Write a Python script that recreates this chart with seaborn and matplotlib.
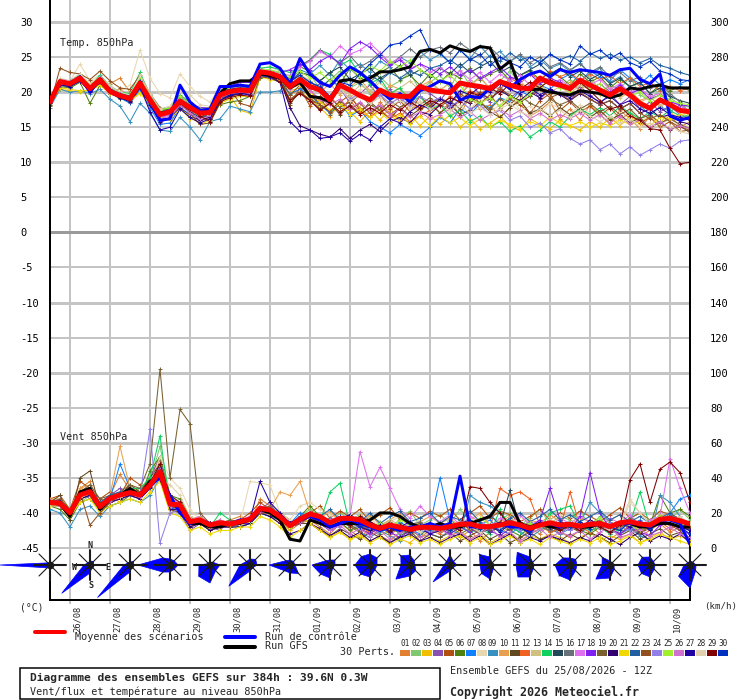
import numpy as np
import matplotlib
matplotlib.use("Agg")
import matplotlib.pyplot as plt
import seaborn as sns
from matplotlib.transforms import ScaledTranslation
from matplotlib.lines import Line2D
from matplotlib.patches import Polygon, Rectangle

# ---------------- data ----------------
hours = list(range(0, 385, 6))
date_ticks = list(range(12, 384, 24))
date_labels = ['26/08', '27/08', '28/08', '29/08', '30/08', '31/08', '01/09', '02/09',
               '03/09', '04/09', '05/09', '06/09', '07/09', '08/09', '09/09', '10/09']
left_ticks = list(range(-45, 31, 5))
right_ticks = list(range(0, 301, 20))
member_ids = ['%02d' % k for k in range(1, 31)]
member_colors = ['#e08030', '#80c870', '#f0c000', '#8850b0', '#b05010', '#508010', '#1080ff',
                 '#e8d8b0', '#3890c0', '#e8a050', '#604820', '#f06020', '#d0c080', '#10d060',
                 '#204858', '#687078', '#e070f0', '#8020f0', '#786030', '#300070', '#f0d800',
                 '#2060a0', '#905020', '#9080e8', '#a0f030', '#d070d0', '#2000a0', '#e0d0b0',
                 '#800000', '#0030c0']

temp_mean = [18.6, 21.5, 21.2, 22.0, 20.5, 21.8, 20.1, 19.5, 19.1, 21.3, 18.9, 16.8, 17.2,
             18.7, 17.8, 17.0, 17.1, 19.6, 20.1, 20.3, 20.2, 22.9, 22.7, 22.2, 20.8, 21.8,
             20.8, 20.3, 18.9, 21.0, 20.3, 19.5, 18.9, 20.3, 19.6, 19.4, 19.4, 20.8, 20.3,
             20.1, 19.9, 21.3, 21.0, 20.8, 20.5, 21.5, 21.0, 20.6, 20.5, 22.0, 21.3, 21.0,
             20.5, 21.7, 21.0, 20.3, 19.6, 20.5, 19.6, 18.4, 17.7, 18.9, 18.2, 17.4, 17.2]
temp_control = [18.6, 21.6, 21.2, 22.2, 20.0, 21.8, 20.2, 19.4, 19.2, 21.0, 18.6, 16.0, 16.2,
                21.0, 18.6, 17.4, 17.6, 20.8, 20.8, 21.0, 20.8, 24.0, 24.2, 23.4, 21.2, 24.8,
                22.6, 21.4, 20.8, 22.4, 23.6, 22.8, 21.6, 20.2, 19.0, 19.8, 18.6, 20.2, 20.8,
                21.6, 21.2, 18.9, 19.4, 19.2, 20.6, 21.4, 20.6, 21.8, 22.6, 23.0, 22.2, 23.2,
                22.8, 23.2, 23.0, 22.8, 22.4, 23.2, 23.4, 21.8, 21.2, 22.6, 16.6, 16.0, 16.4]
temp_gfs = [18.6, 21.4, 21.2, 22.0, 20.6, 21.8, 20.2, 19.4, 19.0, 21.2, 18.8, 17.0, 17.2,
            18.6, 17.6, 17.2, 17.4, 19.8, 21.2, 21.6, 21.6, 22.6, 22.4, 22.0, 20.6, 21.4,
            19.4, 19.2, 18.6, 21.6, 21.8, 21.4, 22.0, 22.9, 22.9, 23.2, 23.6, 25.8, 26.1,
            25.6, 26.6, 26.1, 25.8, 26.5, 26.3, 23.3, 24.4, 20.6, 20.4, 20.4, 20.0, 19.8,
            19.6, 20.2, 20.0, 19.8, 19.2, 19.6, 20.6, 20.4, 20.8, 21.0, 20.6, 20.6, 20.6]

t01 = [18.4, 21.2, 21.6, 21.8, 21.0, 21.4, 21.2, 22.0, 20.0, 20.6, 18.0, 16.2, 17.8,
       18.2, 17.4, 16.6, 17.8, 19.0, 19.4, 20.0, 20.6, 22.4, 23.0, 21.6, 19.6, 20.4,
       19.4, 17.6, 18.8, 16.9, 19.2, 17.8, 16.4, 18.6, 17.0, 16.2, 18.4, 17.2, 18.8,
       17.0, 18.6, 16.8, 19.4, 17.6, 18.2, 16.4, 17.8, 19.0, 16.6, 17.4, 18.6, 16.2,
       17.6, 16.0, 18.2, 16.8, 15.4, 17.4, 16.2, 14.8, 16.6, 15.2, 16.8, 15.0, 15.8]
t02 = [18.8, 21.0, 20.8, 21.6, 20.2, 22.0, 19.8, 19.4, 19.6, 21.8, 19.2, 17.0, 17.0,
       19.0, 18.2, 17.6, 16.8, 19.8, 20.4, 20.0, 20.8, 23.2, 22.4, 22.8, 21.4, 22.6,
       22.6, 20.4, 21.8, 23.0, 20.6, 21.4, 19.8, 22.2, 20.8, 21.6, 22.8, 20.2, 21.4,
       22.4, 20.6, 23.2, 21.0, 22.2, 20.4, 21.6, 23.0, 21.2, 20.0, 22.0, 21.4, 20.6,
       21.8, 20.2, 22.6, 19.8, 21.0, 20.4, 22.2, 19.6, 18.8, 20.4, 19.2, 18.2, 17.8]
t03 = [18.2, 20.4, 20.2, 20.0, 20.4, 21.0, 20.2, 19.8, 18.6, 20.0, 18.6, 16.4, 16.0,
       17.8, 16.2, 15.8, 16.4, 18.6, 19.4, 17.4, 17.0, 22.0, 22.6, 21.8, 20.2, 20.6,
       19.2, 17.8, 16.4, 18.6, 17.2, 15.8, 17.4, 16.0, 17.8, 15.6, 16.8, 15.2, 16.6,
       15.4, 16.8, 15.0, 16.2, 14.8, 15.6, 16.6, 15.0, 14.6, 16.2, 15.4, 14.8, 16.0,
       15.2, 14.6, 15.8, 15.0, 16.4, 15.2, 16.6, 15.4, 16.8, 15.6, 17.2, 16.0, 17.0]
t04 = [18.8, 21.6, 21.4, 22.2, 20.8, 21.6, 20.4, 19.2, 18.8, 21.6, 18.4, 15.6, 16.4,
       18.0, 17.4, 15.8, 16.6, 19.4, 19.8, 20.4, 20.0, 22.4, 23.2, 22.0, 21.2, 22.0,
       20.4, 21.2, 19.0, 20.6, 18.4, 19.8, 21.0, 19.2, 20.4, 18.6, 19.6, 21.2, 19.8,
       18.8, 20.6, 19.4, 21.4, 19.6, 18.6, 20.8, 19.2, 20.2, 21.0, 19.0, 20.4, 19.8,
       18.6, 20.8, 19.6, 18.4, 19.8, 18.2, 19.4, 17.6, 18.6, 17.2, 18.0, 16.8, 16.2]
t05 = [18.6, 21.8, 21.2, 21.4, 21.0, 21.2, 20.6, 19.6, 19.6, 20.6, 18.6, 17.2, 17.6,
       19.4, 18.4, 17.4, 16.2, 18.8, 19.8, 20.6, 19.6, 22.2, 22.4, 21.8, 18.2, 20.6,
       18.0, 19.4, 16.8, 18.6, 19.6, 17.4, 18.2, 19.8, 17.6, 18.8, 17.2, 19.4, 18.0,
       19.2, 17.8, 18.6, 20.2, 18.4, 19.6, 17.8, 19.0, 18.2, 17.0, 18.8, 19.8, 17.4,
       18.6, 17.2, 18.0, 16.6, 17.8, 16.2, 17.0, 15.6, 16.4, 15.0, 15.8, 14.4, 14.6]
t06 = [18.0, 20.8, 20.6, 21.4, 18.4, 21.0, 20.0, 19.0, 19.0, 20.8, 19.4, 17.4, 17.6,
       19.0, 18.0, 17.4, 17.6, 18.2, 18.6, 18.8, 19.4, 22.0, 22.2, 21.8, 22.0, 23.6,
       23.0, 21.6, 22.8, 21.2, 23.4, 22.0, 21.4, 22.8, 23.6, 21.8, 22.4, 21.0, 22.6,
       21.4, 22.8, 22.0, 23.4, 21.8, 22.6, 23.2, 21.6, 22.4, 23.0, 21.8, 22.8, 22.2,
       21.0, 22.6, 21.4, 22.2, 20.6, 21.8, 20.8, 21.4, 19.8, 21.0, 20.2, 20.8, 20.2]
t07 = [18.4, 21.2, 20.8, 21.6, 20.4, 21.4, 19.8, 19.2, 18.4, 20.4, 17.8, 15.4, 15.6,
       17.8, 16.8, 16.4, 17.0, 19.0, 19.6, 20.0, 19.8, 22.4, 22.0, 21.4, 19.8, 20.4,
       19.6, 18.2, 17.0, 18.4, 16.6, 17.4, 15.8, 15.0, 14.2, 15.4, 14.6, 13.8, 15.0,
       16.4, 15.6, 17.6, 16.8, 18.4, 17.8, 19.2, 18.6, 20.2, 19.4, 21.0, 20.4, 21.8,
       22.6, 21.4, 23.0, 22.2, 21.6, 23.2, 22.0, 21.2, 22.4, 21.0, 21.8, 21.2, 21.8]
t08 = [19.0, 22.0, 21.6, 24.0, 21.6, 22.4, 21.0, 20.0, 21.0, 26.0, 22.0, 19.8, 19.2,
       22.6, 20.8, 19.4, 18.6, 20.6, 20.6, 21.4, 21.6, 23.4, 23.6, 23.0, 21.8, 22.6,
       21.6, 20.2, 19.4, 21.0, 19.0, 20.4, 18.6, 19.8, 18.2, 19.4, 17.6, 18.8, 17.2,
       18.4, 17.0, 18.8, 17.6, 19.0, 17.2, 18.2, 19.6, 17.4, 18.0, 16.8, 18.4, 17.6,
       16.8, 18.2, 17.0, 16.4, 17.6, 16.0, 17.4, 15.8, 16.6, 15.4, 16.2, 15.2, 15.2]
t09 = [17.8, 20.4, 20.0, 20.2, 19.8, 20.4, 19.0, 18.0, 15.8, 18.4, 17.0, 14.6, 14.4,
       16.4, 15.0, 13.2, 15.8, 16.2, 18.0, 17.6, 17.2, 20.0, 20.0, 20.2, 21.6, 23.2,
       22.6, 23.8, 22.4, 24.6, 23.2, 24.0, 22.8, 24.4, 23.6, 25.0, 24.2, 25.8, 24.6,
       25.4, 24.2, 26.0, 24.8, 26.6, 25.0, 25.8, 24.4, 25.2, 23.6, 24.6, 23.4, 24.0,
       23.0, 24.2, 22.6, 23.4, 21.4, 22.2, 20.6, 18.2, 16.6, 18.0, 17.2, 18.2, 17.0]
t10 = [18.4, 21.4, 21.0, 22.4, 20.6, 22.0, 20.2, 20.4, 19.4, 21.4, 18.8, 16.8, 17.6,
       19.2, 18.6, 17.6, 17.4, 20.2, 20.4, 20.8, 20.6, 23.0, 22.8, 22.6, 21.6, 22.4,
       21.6, 20.0, 21.2, 19.6, 20.8, 21.8, 20.2, 19.4, 21.0, 20.4, 19.2, 20.8, 21.6,
       20.2, 21.4, 19.8, 21.0, 22.0, 20.6, 21.8, 20.4, 21.2, 19.8, 21.4, 22.2, 20.8,
       21.4, 20.2, 21.6, 20.0, 20.8, 19.4, 20.2, 18.8, 19.4, 18.0, 18.6, 17.4, 17.4]
t11 = [18.8, 21.6, 21.4, 22.0, 20.8, 21.8, 20.6, 19.6, 19.2, 21.2, 19.0, 17.2, 17.0,
       18.6, 17.6, 16.8, 16.4, 19.0, 19.8, 20.2, 20.0, 22.6, 22.6, 22.4, 18.4, 20.0,
       18.8, 17.6, 18.4, 16.8, 18.2, 17.0, 18.6, 17.4, 16.2, 17.8, 16.6, 17.6, 18.4,
       17.0, 18.2, 16.8, 17.4, 18.6, 17.2, 16.4, 17.8, 18.8, 17.0, 17.6, 16.6, 17.8,
       16.8, 17.6, 16.4, 17.4, 16.0, 16.8, 15.6, 16.4, 14.8, 15.8, 14.6, 15.2, 14.2]
t12 = [18.6, 21.6, 21.0, 22.2, 20.4, 21.6, 20.0, 19.4, 19.0, 21.0, 18.6, 16.6, 17.2,
       18.4, 17.4, 16.8, 17.0, 19.4, 20.0, 20.2, 20.0, 22.8, 22.4, 22.2, 20.6, 21.6,
       20.4, 18.6, 19.4, 17.8, 18.8, 17.2, 16.4, 17.6, 16.2, 17.0, 15.8, 16.6, 17.4,
       18.0, 19.4, 18.6, 20.2, 19.6, 21.0, 20.4, 22.0, 21.2, 22.6, 21.8, 23.0, 22.2,
       22.8, 21.6, 22.6, 21.8, 22.4, 21.2, 22.0, 20.8, 21.4, 20.2, 20.8, 20.2, 20.6]
t13 = [18.8, 21.2, 21.4, 21.8, 20.6, 21.6, 20.4, 19.8, 19.6, 21.4, 19.2, 17.4, 17.8,
       19.2, 18.2, 17.6, 17.4, 19.8, 20.4, 20.6, 20.4, 23.0, 22.8, 22.6, 21.4, 22.6,
       21.2, 20.6, 21.8, 20.4, 19.6, 21.0, 20.2, 21.4, 19.8, 20.6, 21.6, 20.2, 21.0,
       20.4, 21.2, 20.0, 21.8, 20.6, 19.8, 21.2, 20.4, 21.6, 20.2, 21.0, 20.0, 20.8,
       19.8, 21.0, 20.4, 19.6, 20.6, 19.2, 20.0, 18.6, 19.2, 18.2, 18.6, 17.4, 16.8]
t14 = [18.8, 21.4, 21.6, 22.6, 21.0, 22.4, 20.8, 20.0, 19.8, 22.8, 19.6, 17.6, 17.8,
       19.6, 18.6, 17.4, 17.6, 20.0, 20.6, 21.0, 21.0, 23.4, 23.6, 23.2, 22.8, 23.6,
       24.6, 26.0, 25.4, 23.8, 24.6, 22.6, 21.2, 22.0, 19.8, 20.6, 18.6, 19.4, 17.6,
       18.2, 16.6, 17.4, 15.8, 16.6, 15.0, 15.8, 14.4, 15.2, 13.6, 14.6, 15.8, 15.0,
       16.6, 17.6, 16.8, 17.8, 16.6, 18.0, 17.0, 16.2, 17.2, 16.4, 17.4, 16.6, 16.6]
t15 = [18.4, 21.0, 21.0, 21.8, 20.2, 21.6, 20.0, 19.2, 18.8, 20.8, 18.4, 16.4, 16.8,
       18.2, 17.2, 16.4, 16.6, 19.2, 19.8, 20.0, 19.8, 22.6, 22.6, 22.2, 21.4, 22.8,
       22.4, 21.6, 22.8, 23.6, 21.8, 22.6, 23.4, 22.0, 22.8, 23.8, 22.4, 23.2, 22.2,
       23.4, 22.6, 24.0, 22.8, 23.6, 24.4, 22.8, 23.6, 22.4, 23.2, 24.0, 22.6, 23.4,
       22.2, 23.0, 21.8, 22.6, 21.2, 22.0, 20.8, 21.4, 19.8, 20.6, 19.4, 18.8, 18.4]
t16 = [18.6, 21.4, 21.2, 21.8, 20.6, 21.8, 20.2, 19.6, 19.2, 21.6, 18.8, 16.6, 17.0,
       18.6, 17.8, 17.2, 17.2, 19.6, 20.2, 20.4, 20.4, 23.0, 22.8, 22.4, 22.0, 23.8,
       24.6, 26.0, 25.0, 24.2, 25.2, 23.6, 24.4, 25.6, 24.0, 25.0, 26.2, 25.0, 26.0,
       26.4, 25.6, 27.0, 26.0, 25.2, 26.4, 25.0, 24.4, 25.4, 24.2, 25.0, 23.6, 24.2,
       23.2, 24.0, 22.8, 23.6, 22.2, 22.8, 21.6, 22.2, 20.6, 21.2, 19.8, 18.6, 17.0]
t17 = [18.6, 21.2, 21.0, 21.6, 20.4, 21.8, 20.0, 19.4, 19.0, 21.6, 18.6, 16.4, 16.8,
       18.4, 17.4, 16.8, 17.0, 19.4, 20.0, 20.0, 20.0, 22.8, 23.0, 22.6, 22.4, 23.6,
       24.4, 25.8, 25.0, 26.6, 25.4, 26.0, 27.0, 25.6, 24.2, 24.8, 23.4, 24.0, 22.8,
       23.6, 22.2, 23.0, 21.8, 22.8, 21.4, 22.6, 21.6, 22.4, 21.0, 22.2, 21.2, 21.8,
       20.8, 22.0, 21.0, 21.8, 20.4, 21.2, 20.0, 20.6, 19.4, 19.8, 18.8, 18.0, 17.4]
t18 = [18.8, 21.8, 21.6, 22.4, 20.8, 22.0, 20.6, 19.8, 19.6, 21.6, 19.4, 17.2, 17.4,
       19.4, 18.4, 17.8, 17.8, 20.4, 20.8, 21.4, 21.4, 23.2, 23.0, 22.8, 23.2, 24.0,
       23.2, 24.4, 25.2, 24.0, 26.2, 27.2, 26.4, 25.0, 23.8, 24.6, 23.2, 24.0, 23.4,
       22.6, 23.6, 22.4, 23.2, 22.0, 22.8, 23.6, 22.2, 21.6, 22.6, 21.2, 22.0, 21.4,
       20.6, 21.6, 20.4, 21.2, 20.0, 21.0, 19.8, 20.4, 19.0, 19.6, 18.6, 18.2, 18.0]
t19 = [18.6, 21.6, 21.2, 22.0, 20.6, 21.6, 20.2, 19.6, 19.2, 21.2, 19.0, 17.0, 17.4,
       18.8, 18.0, 17.2, 17.2, 19.6, 20.2, 20.4, 20.2, 22.8, 22.6, 22.2, 19.6, 21.0,
       19.6, 18.4, 19.2, 17.8, 18.6, 19.6, 18.2, 17.4, 18.8, 17.8, 19.0, 18.2, 19.2,
       18.0, 18.8, 17.6, 19.4, 18.4, 17.6, 19.0, 18.2, 19.6, 18.4, 17.8, 19.0, 18.2,
       18.8, 17.6, 18.4, 17.2, 18.0, 16.8, 17.6, 16.2, 16.8, 15.6, 16.2, 15.4, 14.8]
t20 = [18.4, 21.0, 20.8, 21.6, 20.0, 21.4, 19.8, 19.2, 18.6, 20.6, 18.2, 15.8, 16.2,
       17.8, 16.6, 16.0, 16.4, 18.8, 19.4, 19.8, 19.8, 22.6, 22.4, 21.8, 17.8, 15.2,
       14.6, 14.0, 13.6, 14.8, 13.4, 14.6, 15.4, 14.4, 15.8, 16.4, 15.6, 17.2, 16.8,
       18.2, 17.6, 19.0, 18.4, 19.8, 19.0, 20.2, 19.4, 18.8, 20.0, 19.2, 20.4, 19.6,
       18.8, 19.8, 19.0, 18.2, 18.8, 17.6, 18.4, 17.0, 17.6, 16.4, 16.8, 15.8, 15.4]
t21 = [18.4, 20.6, 20.4, 20.2, 20.2, 21.0, 19.8, 19.6, 18.8, 19.8, 18.4, 16.4, 16.2,
       17.6, 16.6, 15.4, 16.0, 18.4, 19.0, 19.4, 19.4, 22.2, 21.8, 21.6, 20.6, 21.0,
       20.0, 18.6, 17.4, 18.4, 16.8, 17.6, 16.4, 17.2, 15.8, 16.8, 15.4, 16.6, 15.2,
       16.6, 15.6, 16.4, 15.2, 16.2, 15.0, 16.0, 15.4, 14.8, 15.8, 15.2, 16.4, 15.6,
       15.2, 15.8, 15.0, 15.6, 15.2, 16.0, 15.4, 15.8, 15.2, 16.4, 16.2, 16.8, 17.0]
t22 = [18.8, 21.6, 21.4, 22.4, 20.8, 22.2, 20.4, 19.8, 19.4, 21.8, 19.2, 17.2, 17.6,
       19.0, 18.2, 17.4, 17.6, 20.0, 20.4, 20.6, 20.6, 23.2, 23.0, 22.6, 21.6, 22.2,
       21.4, 20.6, 21.8, 20.8, 22.0, 21.2, 22.4, 21.6, 22.8, 22.0, 23.0, 22.4, 23.4,
       23.8, 24.6, 23.6, 24.8, 24.0, 25.2, 24.4, 25.6, 24.6, 25.0, 24.2, 25.4, 24.6,
       25.2, 24.4, 25.6, 24.8, 25.4, 24.6, 25.0, 24.2, 24.8, 23.8, 23.4, 22.8, 22.4]
t23 = [18.2, 23.4, 22.8, 22.6, 21.8, 23.0, 21.6, 20.6, 20.4, 22.4, 19.8, 17.8, 17.2,
       18.6, 17.0, 15.4, 15.6, 18.4, 20.4, 18.4, 18.0, 22.2, 22.0, 21.4, 19.0, 20.0,
       19.0, 18.2, 17.2, 18.8, 17.6, 18.4, 17.0, 18.0, 16.8, 17.8, 18.6, 17.6, 18.4,
       19.2, 18.4, 19.8, 18.8, 20.0, 19.0, 20.4, 19.6, 18.6, 19.4, 20.4, 19.2, 19.8,
       18.8, 20.0, 19.0, 18.2, 18.8, 17.6, 18.4, 17.0, 16.2, 16.8, 15.8, 15.0, 14.6]
t24 = [18.6, 21.4, 21.2, 22.0, 20.6, 21.8, 20.2, 19.6, 19.0, 21.4, 18.8, 16.8, 17.0,
       18.6, 17.6, 17.0, 17.0, 19.4, 20.2, 20.2, 20.0, 22.8, 22.8, 22.4, 21.0, 22.0,
       21.0, 20.0, 19.2, 20.4, 19.0, 19.8, 18.6, 19.6, 18.4, 19.2, 18.0, 19.4, 18.6,
       19.2, 18.0, 18.8, 17.6, 18.2, 16.8, 17.4, 16.0, 16.6, 15.0, 15.6, 14.2, 14.8,
       13.4, 12.6, 13.2, 11.8, 12.6, 11.2, 12.2, 11.0, 11.8, 12.6, 12.0, 13.0, 13.2]
t25 = [18.8, 21.8, 21.4, 22.4, 21.0, 22.0, 20.6, 19.8, 19.6, 22.0, 19.4, 17.4, 17.8,
       19.4, 18.4, 17.6, 17.8, 20.2, 20.6, 21.0, 20.8, 23.2, 23.2, 22.8, 22.2, 23.0,
       22.0, 22.8, 21.6, 22.6, 23.4, 22.2, 23.8, 23.0, 24.4, 23.6, 24.6, 23.2, 22.4,
       21.6, 22.4, 21.0, 19.0, 18.4, 19.2, 18.0, 19.4, 18.6, 19.8, 20.8, 21.6, 20.6,
       20.2, 21.4, 20.6, 21.2, 19.8, 20.6, 19.4, 20.0, 18.8, 19.6, 18.8, 18.4, 18.2]
t26 = [18.6, 21.2, 21.4, 21.8, 20.6, 21.6, 20.4, 19.6, 19.2, 21.4, 18.8, 16.2, 16.6,
       18.2, 17.0, 16.2, 16.6, 19.2, 19.8, 20.0, 19.8, 22.6, 22.6, 22.0, 20.4, 21.2,
       20.2, 19.0, 18.2, 19.0, 17.6, 18.6, 17.4, 18.2, 16.8, 17.6, 16.4, 17.2, 16.2,
       16.8, 17.6, 16.4, 17.2, 16.0, 16.8, 17.6, 16.6, 17.4, 16.2, 17.0, 16.0, 16.8,
       16.2, 17.0, 16.0, 16.8, 15.6, 16.6, 15.4, 16.0, 15.0, 15.8, 14.8, 15.2, 14.8]
t27 = [18.4, 21.0, 20.8, 21.6, 20.2, 21.4, 20.0, 19.4, 18.8, 20.8, 17.2, 14.6, 15.0,
       17.6, 16.4, 15.6, 16.2, 18.8, 19.6, 19.8, 19.6, 22.4, 22.2, 21.4, 15.8, 14.4,
       14.6, 13.4, 13.6, 14.2, 13.0, 14.0, 13.2, 15.0, 16.2, 15.6, 17.2, 18.2, 17.6,
       19.0, 18.4, 20.2, 19.6, 20.8, 20.0, 21.2, 20.4, 19.8, 20.6, 19.6, 20.4, 19.8,
       19.2, 20.2, 19.4, 18.6, 19.4, 18.2, 18.8, 17.6, 17.0, 17.8, 16.8, 16.4, 16.0]
t28 = [18.6, 21.8, 21.6, 22.6, 21.2, 22.2, 20.8, 20.0, 19.6, 22.4, 19.8, 17.6, 18.0,
       20.2, 19.6, 18.2, 18.0, 20.6, 20.8, 21.0, 21.0, 23.2, 23.0, 22.6, 21.0, 22.4,
       21.2, 20.0, 19.2, 20.6, 18.8, 19.6, 18.4, 19.2, 18.0, 18.8, 17.8, 18.6, 17.6,
       18.4, 17.4, 18.2, 17.0, 17.8, 16.8, 17.6, 18.4, 17.2, 16.6, 17.6, 16.8, 17.4,
       16.4, 17.4, 16.6, 15.8, 16.6, 15.6, 16.2, 15.0, 15.6, 14.8, 15.2, 14.4, 14.0]
t29 = [18.6, 21.4, 21.2, 22.0, 20.4, 21.6, 20.2, 19.6, 19.0, 21.2, 18.6, 16.8, 17.2,
       18.4, 17.6, 16.6, 15.8, 18.6, 19.2, 19.6, 19.4, 22.6, 22.4, 21.4, 18.8, 19.8,
       18.8, 17.4, 18.4, 17.2, 18.0, 16.8, 17.8, 17.0, 18.2, 17.4, 18.6, 17.8, 18.8,
       18.2, 19.2, 18.6, 20.0, 19.4, 20.6, 19.8, 21.2, 20.4, 21.4, 20.6, 21.8, 21.0,
       20.4, 21.4, 20.2, 18.8, 17.6, 18.0, 16.6, 16.0, 14.8, 14.6, 12.0, 9.8, 10.0]
t30 = [18.8, 21.6, 21.4, 22.2, 20.6, 22.0, 20.4, 19.8, 19.4, 21.6, 19.0, 17.0, 17.4,
       18.8, 18.0, 17.4, 17.4, 20.0, 20.4, 20.6, 20.4, 23.0, 22.8, 22.4, 21.6, 22.4,
       21.4, 20.8, 19.4, 21.4, 21.0, 22.6, 24.0, 25.3, 26.7, 27.0, 28.0, 28.9, 26.0,
       25.6, 24.2, 26.0, 24.6, 25.4, 23.8, 25.0, 24.2, 23.6, 25.0, 24.2, 25.4, 24.6,
       24.0, 26.6, 25.4, 26.0, 24.8, 25.6, 24.2, 23.6, 24.4, 23.0, 22.6, 21.8, 21.6]

wind_mean = [26.0, 25.5, 20.1, 30.2, 32.1, 23.6, 28.3, 30.2, 31.6, 30.2, 35.9, 43.5, 25.1,
             24.5, 15.0, 16.0, 13.1, 14.4, 13.7, 15.0, 16.4, 22.6, 21.7, 17.9, 12.7, 16.4,
             19.4, 17.9, 14.4, 16.9, 16.9, 16.0, 13.1, 11.2, 13.1, 11.8, 10.6, 11.8, 11.8,
             11.2, 12.2, 13.5, 13.7, 12.2, 12.2, 13.1, 14.4, 13.1, 11.2, 13.1, 14.4, 13.1,
             13.5, 12.5, 13.5, 14.0, 12.2, 14.4, 15.0, 13.7, 13.1, 16.4, 16.9, 15.5, 13.7]
wind_control = [26, 26, 20, 30, 32, 24, 28, 30, 32, 30, 36, 40, 30,
                20, 14, 16, 14, 14, 14, 16, 16, 22, 22, 18, 14, 16,
                18, 16, 12, 14, 16, 14, 12, 10, 12, 10, 12, 12, 14,
                12, 14, 41, 12, 12, 12, 14, 12, 12, 10, 14, 14, 12,
                14, 12, 14, 14, 12, 14, 14, 14, 12, 16, 16, 14, 2]
wind_gfs = [26, 25, 18, 32, 34, 22, 28, 30, 34, 30, 38, 40, 28,
            22, 14, 14, 12, 12, 14, 14, 16, 22, 20, 16, 5, 4,
            16, 14, 12, 14, 14, 14, 16, 20, 20, 18, 14, 12, 12,
            14, 12, 12, 14, 16, 18, 26, 26, 14, 12, 14, 12, 12,
            14, 12, 12, 14, 12, 14, 14, 12, 12, 14, 14, 12, 12]

w01 = [27, 24, 18, 34, 38, 22, 30, 42, 33, 28, 40, 50, 20, 22, 12, 14, 10, 12, 16, 18, 14, 28, 24, 16, 10, 14,
       16, 12, 8, 14, 10, 6, 11, 7, 4, 9, 12, 6, 10, 8, 13, 6, 10, 4, 9, 12, 7, 5, 11, 8, 14, 9,
       6, 10, 13, 8, 5, 9, 12, 7, 10, 14, 9, 12, 8]
w02 = [25, 28, 22, 26, 30, 20, 26, 28, 30, 34, 38, 58, 30, 26, 18, 14, 12, 16, 12, 14, 18, 20, 24, 20, 14, 18,
       22, 18, 14, 20, 16, 12, 18, 15, 10, 17, 21, 13, 16, 19, 14, 22, 16, 12, 18, 15, 20, 13, 17, 22, 14, 18,
       16, 21, 13, 18, 15, 10, 17, 20, 14, 19, 16, 22, 16]
w03 = [24, 26, 18, 28, 34, 26, 30, 26, 34, 32, 34, 40, 22, 20, 14, 18, 10, 12, 14, 12, 16, 24, 18, 14, 10, 18,
       14, 10, 6, 9, 5, 8, 4, 7, 10, 5, 3, 8, 6, 4, 7, 10, 5, 8, 3, 6, 9, 4, 7, 5, 8, 6,
       3, 6, 9, 4, 7, 5, 8, 3, 6, 9, 5, 7, 4]
w04 = [26, 24, 20, 32, 28, 24, 30, 34, 30, 32, 40, 52, 24, 20, 10, 14, 12, 10, 16, 12, 14, 22, 26, 16, 12, 14,
       18, 14, 10, 13, 16, 9, 12, 8, 14, 11, 7, 13, 10, 12, 9, 15, 11, 8, 13, 10, 16, 12, 9, 14, 11, 8,
       13, 10, 15, 12, 8, 14, 11, 9, 13, 16, 18, 12, 10]
w05 = [28, 30, 22, 38, 34, 28, 32, 30, 40, 36, 34, 48, 26, 26, 16, 18, 14, 16, 12, 16, 20, 26, 22, 20, 16, 14,
       20, 24, 17, 21, 18, 22, 15, 19, 23, 16, 20, 17, 21, 18, 22, 16, 20, 24, 17, 21, 19, 15, 18, 22, 16, 20,
       17, 21, 18, 15, 19, 23, 17, 20, 16, 21, 19, 17, 14]
w06 = [24, 22, 16, 26, 28, 22, 24, 26, 30, 28, 44, 52, 30, 28, 18, 14, 10, 12, 14, 12, 14, 20, 18, 16, 12, 18,
       24, 18, 12, 15, 10, 13, 9, 12, 8, 14, 10, 7, 12, 10, 13, 8, 11, 14, 9, 12, 10, 7, 12, 15, 9, 11,
       13, 10, 8, 12, 9, 14, 11, 8, 13, 30, 20, 22, 18]
w07 = [26, 26, 20, 30, 32, 22, 28, 48, 34, 30, 36, 40, 22, 24, 14, 16, 12, 14, 12, 14, 18, 22, 20, 16, 14, 20,
       18, 14, 11, 16, 12, 17, 10, 14, 9, 15, 11, 8, 13, 40, 16, 12, 9, 13, 16, 10, 8, 12, 15, 11, 14, 10,
       13, 9, 12, 15, 10, 8, 13, 16, 11, 14, 20, 28, 30]
w08 = [26, 26, 20, 30, 32, 24, 28, 30, 32, 30, 36, 52, 40, 34, 22, 16, 12, 14, 16, 14, 38, 37, 36, 20, 16, 24,
       26, 22, 19, 16, 20, 14, 17, 12, 15, 18, 13, 16, 11, 14, 17, 12, 15, 19, 13, 16, 11, 18, 14, 12, 16, 19,
       18, 15, 12, 16, 13, 11, 26, 20, 14, 12, 15, 11, 10]
w09 = [22, 20, 12, 22, 24, 18, 24, 26, 28, 26, 30, 40, 24, 22, 14, 14, 12, 14, 12, 12, 14, 20, 18, 16, 12, 16,
       18, 14, 10, 13, 16, 9, 6, 10, 7, 4, 9, 12, 8, 6, 10, 8, 30, 26, 24, 20, 12, 9, 6, 10, 13, 8,
       11, 14, 26, 20, 15, 8, 11, 7, 5, 30, 26, 18, 12]
w10 = [28, 28, 22, 34, 36, 26, 30, 58, 34, 34, 38, 46, 28, 26, 16, 18, 14, 16, 14, 16, 18, 24, 22, 32, 30, 38,
       20, 17, 21, 15, 18, 14, 19, 13, 16, 20, 12, 15, 18, 14, 17, 12, 16, 20, 13, 15, 18, 11, 16, 14, 19, 15,
       13, 17, 15, 12, 16, 19, 14, 11, 15, 18, 20, 16, 14]
w11 = [26, 30, 16, 40, 44, 22, 26, 30, 36, 32, 40, 48, 22, 20, 12, 16, 14, 12, 12, 14, 16, 22, 20, 16, 12, 14,
       14, 10, 7, 11, 8, 5, 9, 6, 3, 7, 10, 4, 8, 6, 9, 4, 7, 10, 5, 8, 3, 6, 9, 5, 7, 4,
       8, 5, 9, 6, 3, 7, 10, 5, 8, 11, 7, 9, 6]
w12 = [27, 25, 20, 30, 30, 26, 30, 30, 32, 32, 36, 42, 26, 24, 14, 16, 12, 14, 14, 16, 16, 22, 22, 18, 14, 16,
       18, 15, 11, 14, 17, 12, 9, 13, 8, 11, 14, 10, 12, 9, 12, 15, 10, 13, 11, 34, 30, 32, 28, 13, 9, 11,
       32, 12, 9, 14, 11, 8, 13, 10, 12, 15, 11, 14, 12]
w13 = [26, 26, 22, 30, 32, 26, 28, 30, 30, 30, 36, 42, 26, 24, 16, 16, 14, 14, 14, 16, 16, 22, 22, 18, 14, 16,
       20, 16, 13, 17, 14, 11, 15, 12, 16, 13, 10, 14, 11, 15, 12, 16, 13, 10, 14, 12, 17, 13, 11, 15, 12, 14,
       11, 14, 12, 16, 13, 10, 14, 12, 15, 17, 13, 16, 14]
w14 = [26, 24, 20, 28, 30, 22, 28, 30, 34, 34, 40, 64, 24, 22, 14, 14, 12, 20, 16, 14, 16, 22, 20, 16, 12, 16,
       18, 15, 32, 37, 13, 10, 14, 9, 12, 8, 11, 13, 9, 12, 10, 13, 9, 11, 8, 22, 12, 9, 13, 11, 20, 22,
       24, 13, 10, 12, 8, 11, 14, 32, 12, 15, 18, 13, 11]
w15 = [25, 26, 21, 30, 32, 24, 28, 30, 32, 30, 36, 44, 26, 24, 14, 16, 14, 14, 12, 16, 16, 24, 22, 18, 14, 16,
       20, 16, 12, 15, 18, 13, 10, 14, 11, 13, 9, 12, 14, 11, 13, 10, 14, 12, 9, 13, 33, 11, 9, 14, 12, 10,
       13, 10, 14, 12, 9, 13, 16, 11, 13, 15, 18, 14, 12]
w16 = [24, 27, 21, 29, 33, 25, 27, 31, 30, 31, 37, 42, 24, 23, 16, 15, 14, 15, 13, 14, 17, 21, 23, 17, 12, 17,
       18, 15, 17, 12, 16, 13, 10, 14, 11, 9, 13, 15, 10, 12, 9, 14, 16, 12, 10, 13, 15, 11, 14, 12, 10, 14,
       15, 11, 13, 16, 10, 14, 17, 13, 11, 15, 18, 14, 12]
w17 = [26, 28, 20, 32, 34, 26, 30, 30, 34, 30, 38, 46, 28, 26, 16, 18, 14, 16, 14, 16, 18, 24, 22, 18, 14, 18,
       20, 18, 16, 18, 18, 55, 35, 46, 34, 22, 17, 24, 18, 15, 19, 13, 18, 15, 12, 17, 14, 19, 13, 16, 12, 17,
       14, 18, 15, 12, 17, 14, 19, 13, 16, 18, 51, 34, 20]
w18 = [24, 24, 18, 28, 30, 22, 26, 28, 30, 28, 34, 40, 24, 22, 14, 14, 12, 12, 12, 14, 14, 20, 20, 16, 12, 14,
       18, 14, 10, 13, 16, 11, 8, 12, 9, 6, 10, 13, 8, 11, 8, 12, 9, 13, 10, 7, 11, 14, 12, 16, 34, 16,
       10, 18, 43, 20, 11, 8, 12, 9, 7, 13, 16, 10, 8]
w19 = [26, 28, 22, 32, 36, 28, 30, 32, 36, 34, 48, 102, 40, 79, 71, 20, 14, 14, 16, 14, 16, 22, 24, 18, 12, 16,
       18, 15, 12, 16, 13, 10, 14, 11, 15, 9, 12, 14, 10, 13, 10, 14, 12, 9, 11, 14, 16, 12, 10, 13, 11, 14,
       12, 10, 15, 13, 9, 12, 16, 11, 13, 15, 17, 12, 11]
w20 = [25, 24, 18, 28, 30, 22, 26, 28, 30, 28, 34, 42, 22, 22, 12, 14, 10, 12, 12, 12, 14, 20, 18, 14, 8, 10,
       14, 11, 7, 10, 6, 9, 4, 7, 3, 6, 8, 4, 6, 3, 6, 8, 4, 7, 2, 5, 8, 3, 6, 4, 7, 5,
       3, 6, 4, 8, 5, 2, 6, 9, 4, 7, 5, 8, 3]
w21 = [24, 24, 18, 26, 28, 20, 24, 26, 28, 26, 32, 38, 20, 18, 10, 12, 8, 10, 10, 12, 12, 18, 16, 12, 6, 10,
       14, 10, 6, 9, 5, 7, 3, 6, 2, 5, 7, 3, 5, 2, 5, 7, 3, 6, 2, 4, 7, 3, 5, 2, 6, 4,
       2, 5, 3, 6, 2, 4, 7, 3, 5, 8, 6, 4, 2]
w22 = [27, 26, 22, 31, 34, 26, 30, 32, 32, 32, 38, 46, 26, 24, 16, 16, 14, 14, 14, 16, 16, 22, 22, 18, 14, 18,
       20, 18, 22, 16, 19, 15, 20, 14, 18, 21, 15, 17, 20, 14, 18, 16, 21, 15, 19, 13, 17, 20, 15, 18, 22, 16,
       19, 15, 18, 21, 16, 19, 15, 18, 14, 17, 20, 16, 14]
w23 = [27, 26, 22, 32, 13, 20, 26, 30, 34, 32, 38, 44, 24, 22, 14, 14, 12, 14, 12, 14, 16, 20, 20, 16, 12, 14,
       18, 16, 13, 16, 12, 9, 13, 10, 14, 11, 8, 12, 10, 13, 10, 14, 11, 9, 12, 15, 10, 13, 8, 11, 14, 10,
       12, 9, 13, 15, 10, 12, 14, 9, 11, 16, 13, 10, 12]
w24 = [26, 26, 20, 30, 32, 24, 28, 30, 32, 30, 68, 3, 20, 22, 14, 16, 12, 14, 14, 14, 16, 22, 22, 18, 14, 16,
       18, 18, 14, 12, 16, 19, 15, 11, 13, 10, 14, 12, 9, 13, 11, 15, 12, 9, 14, 11, 13, 10, 15, 12, 14, 11,
       10, 13, 15, 11, 14, 12, 10, 15, 12, 16, 14, 17, 14]
w25 = [25, 27, 19, 29, 31, 25, 29, 29, 31, 31, 35, 43, 26, 23, 15, 17, 13, 15, 13, 16, 15, 23, 21, 19, 12, 17,
       19, 17, 14, 18, 15, 19, 12, 14, 11, 16, 13, 10, 14, 12, 15, 11, 14, 17, 13, 10, 15, 12, 14, 11, 16, 13,
       15, 12, 14, 17, 11, 15, 13, 10, 14, 18, 16, 13, 14]
w26 = [27, 24, 20, 31, 33, 23, 27, 31, 33, 29, 37, 45, 24, 25, 14, 15, 12, 13, 14, 15, 17, 21, 23, 17, 13, 15,
       20, 15, 10, 13, 8, 11, 7, 10, 5, 9, 12, 6, 8, 11, 7, 9, 5, 8, 12, 6, 9, 4, 8, 11, 6, 9,
       7, 10, 5, 9, 12, 6, 8, 11, 7, 9, 12, 8, 6]
w27 = [26, 25, 21, 30, 31, 24, 29, 30, 32, 30, 36, 44, 26, 24, 15, 16, 13, 14, 14, 15, 16, 38, 26, 20, 14, 16,
       18, 16, 13, 17, 19, 12, 10, 13, 9, 12, 15, 11, 8, 10, 14, 12, 15, 11, 13, 9, 14, 12, 8, 15, 13, 11,
       14, 11, 16, 13, 9, 14, 12, 15, 10, 16, 14, 12, 10]
w28 = [25, 26, 21, 29, 31, 24, 28, 29, 31, 30, 36, 40, 36, 30, 18, 16, 13, 14, 14, 15, 17, 23, 22, 18, 13, 16,
       19, 17, 13, 16, 18, 15, 12, 10, 14, 11, 13, 9, 12, 10, 13, 15, 12, 9, 14, 11, 15, 12, 10, 13, 16, 12,
       14, 11, 15, 12, 10, 13, 28, 20, 13, 16, 15, 18, 14]
w29 = [26, 27, 20, 31, 33, 25, 29, 31, 33, 31, 37, 48, 30, 26, 16, 16, 14, 14, 14, 16, 16, 22, 22, 18, 14, 16,
       20, 17, 14, 16, 13, 18, 15, 12, 10, 13, 9, 12, 14, 11, 13, 10, 35, 34, 26, 20, 13, 15, 11, 14, 12, 10,
       13, 10, 14, 12, 9, 13, 39, 48, 26, 45, 49, 43, 26]
w30 = [26, 26, 21, 31, 32, 23, 28, 31, 31, 30, 35, 44, 25, 24, 15, 16, 13, 14, 14, 15, 16, 23, 22, 18, 13, 16,
       19, 16, 13, 18, 15, 12, 14, 10, 13, 11, 9, 13, 11, 12, 10, 14, 16, 11, 13, 10, 15, 12, 9, 14, 12, 15,
       12, 15, 11, 14, 12, 10, 15, 13, 11, 16, 14, 12, 8]

# wind-rose frequencies per day (12Z), 8 sectors
rose_hours = list(range(0, 385, 24))
rose_n = [2, 4, 3, 6, 2, 6, 5, 5, 11, 10, 10, 8, 8, 7, 4, 8, 4]
rose_ne = [2, 5, 5, 6, 4, 8, 5, 7, 10, 6, 5, 3, 4, 8, 3, 5, 4]
rose_e = [3, 3, 3, 8, 10, 7, 5, 5, 7, 5, 7, 3, 3, 7, 4, 5, 6]
rose_se = [2, 3, 3, 6, 8, 4, 12, 4, 7, 8, 4, 5, 5, 8, 6, 6, 8]
rose_s = [2, 8, 7, 7, 18, 6, 8, 13, 12, 11, 6, 14, 12, 15, 13, 12, 23]
rose_sw = [4, 40, 46, 10, 16, 30, 8, 13, 13, 20, 24, 12, 17, 15, 20, 12, 16]
rose_w = [50, 6, 6, 32, 11, 10, 21, 18, 15, 9, 6, 10, 14, 15, 8, 12, 6]
rose_nw = [3, 3, 3, 10, 2, 5, 6, 6, 12, 13, 5, 15, 18, 10, 11, 11, 3]

temp_members = [t01, t02, t03, t04, t05, t06, t07, t08, t09, t10, t11, t12, t13, t14, t15,
                t16, t17, t18, t19, t20, t21, t22, t23, t24, t25, t26, t27, t28, t29, t30]
wind_members = [w01, w02, w03, w04, w05, w06, w07, w08, w09, w10, w11, w12, w13, w14, w15,
                w16, w17, w18, w19, w20, w21, w22, w23, w24, w25, w26, w27, w28, w29, w30]

# ---------------- figure ----------------
sns.set_theme(style="white")
plt.rcParams['font.family'] = ['DejaVu Sans Mono', 'DejaVu Sans']

W, H = 740, 700
PX = 0.72  # points per pixel at 100 dpi
fig = plt.figure(figsize=(W / 100, H / 100), dpi=100)
fig.patch.set_facecolor('white')

def fx(x):
    return x / W

def fy(y):
    return 1 - y / H

ax = fig.add_axes([fx(50), (H - 600) / H, 640 / W, 600 / H])
ax.set_facecolor('white')
YPX = 526 / 75.0      # pixels per degree
HPX = 384 / 640.0     # hours per pixel
ytop = 30 + 22 / YPX
ybot = 30 - 578 / YPX

# grid
for v in left_ticks:
    if v == 0:
        ax.axhline(v, color='#9a9a9a', lw=3 * PX, zorder=0.5)
    elif v % 10 == 0:
        ax.axhline(v, color='#c4c4c4', lw=3 * PX, zorder=0.5)
    else:
        ax.axhline(v, color='#c4c4c4', lw=2 * PX, zorder=0.5)
for h in date_ticks:
    ax.axvline(h, color='#c4c4c4', lw=2 * PX, zorder=0.4)

# temperature members
for col, tv in zip(member_colors, temp_members):
    sns.lineplot(x=hours, y=tv, color=col, lw=0.75, marker='+', markersize=3.5,
                 mew=0.7, mec=col, ax=ax, zorder=2)
sns.lineplot(x=hours, y=temp_gfs, color='black', lw=3 * PX, ax=ax, zorder=3)
sns.lineplot(x=hours, y=temp_control, color='#0000ff', lw=3 * PX, ax=ax, zorder=3.2)
sns.lineplot(x=hours, y=temp_mean, color='#ff0000', lw=5 * PX, ax=ax, zorder=4)

# wind on secondary axis
ax2 = ax.twinx()
for col, wv in zip(member_colors, wind_members):
    sns.lineplot(x=hours, y=wv, color=col, lw=0.75, marker='+', markersize=3.5,
                 mew=0.7, mec=col, ax=ax2, zorder=2)
sns.lineplot(x=hours, y=wind_gfs, color='black', lw=3 * PX, ax=ax2, zorder=3)
sns.lineplot(x=hours, y=wind_control, color='#0000ff', lw=3 * PX, ax=ax2, zorder=3.2)
sns.lineplot(x=hours, y=wind_mean, color='#ff0000', lw=5 * PX, ax=ax2, zorder=4)

# wind roses
ROSE_Y = 30 - 543 / YPX
angles = np.deg2rad([90, 45, 0, -45, -90, -135, 180, 135])
ROSE_SCALE = 1.0
for k, h in enumerate(rose_hours):
    radii = [rose_n[k], rose_ne[k], rose_e[k], rose_se[k], rose_s[k], rose_sw[k], rose_w[k], rose_nw[k]]
    pts = [(h + r * ROSE_SCALE * np.cos(a) * HPX, ROSE_Y + r * ROSE_SCALE * np.sin(a) / YPX)
           for r, a in zip(radii, angles)]
    ax.add_patch(Polygon(pts, closed=True, fc='#0000ff', ec='#0000ff', lw=0.5,
                         clip_on=False, zorder=5))
    ax.plot([h - 16 * HPX, h + 16 * HPX], [ROSE_Y, ROSE_Y], color='k', lw=1.5, clip_on=False, zorder=6)
    ax.plot([h, h], [ROSE_Y - 15 / YPX, ROSE_Y + 15 / YPX], color='k', lw=1.5, clip_on=False, zorder=6)
    ax.plot([h - 11 * HPX, h + 11 * HPX], [ROSE_Y - 11 / YPX, ROSE_Y + 11 / YPX], color='k', lw=0.8,
            clip_on=False, zorder=6)
    ax.plot([h - 11 * HPX, h + 11 * HPX], [ROSE_Y + 11 / YPX, ROSE_Y - 11 / YPX], color='k', lw=0.8,
            clip_on=False, zorder=6)
    ax.plot([h], [ROSE_Y], 'o', color='k', ms=4.5, clip_on=False, zorder=7)

hN = rose_hours[1]
for lab, dx, dy in [('N', 0, -19), ('W', -15, 2), ('E', 18, 2), ('S', 1, 21)]:
    ax.text(hN + dx * HPX, ROSE_Y - dy / YPX, lab, fontsize=6, fontweight='bold',
            ha='center', va='center', zorder=8, clip_on=False)

ax.text(10 * HPX, 30 - (43 - 22) / YPX, 'Temp. 850hPa', fontsize=7.3, ha='left', va='center', zorder=8)
ax.text(10 * HPX, 30 - (437 - 22) / YPX, 'Vent 850hPa', fontsize=7.3, ha='left', va='center', zorder=8)

# axes limits / ticks
ax.set_autoscale_on(False)
ax.set_xlim(0, 384)
ax.set_ylim(ybot, ytop)
ax2.set_xlim(0, 384)
ax2.set_ylim((ybot + 45) * 4, (ytop + 45) * 4)
ax.set_xlabel('')
ax.set_ylabel('')
ax2.set_ylabel('')

ax.set_yticks(left_ticks)
ax.set_yticklabels([str(v) for v in left_ticks])
ax.tick_params(axis='y', length=0, pad=30 * PX, labelsize=7.5, labelcolor='black')
for lab in ax.get_yticklabels():
    lab.set_horizontalalignment('left')
ax2.set_yticks(right_ticks)
ax2.set_yticklabels([str(v) for v in right_ticks])
ax2.tick_params(axis='y', length=0, pad=20 * PX, labelsize=7.5, labelcolor='black')

ax.set_xticks(date_ticks)
ax.set_xticklabels(date_labels, rotation=90)
ax.tick_params(axis='x', length=4 * PX, width=2 * PX, color='#c4c4c4', pad=1, labelsize=6.3,
               direction='out', bottom=True)
for lab in ax.get_xticklabels():
    lab.set_transform(lab.get_transform() + ScaledTranslation(7 / 100, 0, fig.dpi_scale_trans))

ax.spines['top'].set_visible(False)
for s in ['left', 'right', 'bottom']:
    ax.spines[s].set_color('black')
    ax.spines[s].set_linewidth(2 * PX)
for s in ax2.spines.values():
    s.set_visible(False)
ax.grid(False)
ax2.grid(False)

# units
fig.text(fx(20), fy(607), '(°C)', fontsize=7.0, ha='left', va='center')
fig.text(fx(704), fy(607), '(km/h)', fontsize=6.6, ha='left', va='center')

# legend
fig.add_artist(Line2D([fx(35), fx(65)], [fy(632), fy(632)], color='#ff0000', lw=4 * PX))
fig.text(fx(75), fy(637), 'Moyenne des scénarios', fontsize=7.3, ha='left', va='center')
fig.add_artist(Line2D([fx(225), fx(255)], [fy(637), fy(637)], color='#0000ff', lw=4 * PX))
fig.text(fx(265), fy(637), 'Run de contrôle', fontsize=7.3, ha='left', va='center')
fig.add_artist(Line2D([fx(225), fx(255)], [fy(647), fy(647)], color='black', lw=4 * PX))
fig.text(fx(265), fy(646), 'Run GFS', fontsize=7.3, ha='left', va='center')
fig.text(fx(340), fy(652), '30 Perts.', fontsize=7.3, ha='left', va='center')

BOX_W = 328.5 / 30
for k, (mid, col) in enumerate(zip(member_ids, member_colors)):
    x0 = 400 + k * BOX_W
    fig.add_artist(Rectangle((fx(x0), fy(656)), 10 / W, 6 / H, transform=fig.transFigure,
                             fc=col, ec='none'))
    fig.text(fx(x0 + 5), fy(643.5), mid, fontsize=5.6, ha='center', va='center')

# bottom info
fig.add_artist(Rectangle((fx(20), fy(699)), 420 / W, 31 / H, transform=fig.transFigure,
                         fill=False, ec='black', lw=1.5 * PX))
fig.text(fx(30), fy(677.5), 'Diagramme des ensembles GEFS sur 384h : 39.6N 0.3W',
         fontsize=8.1, fontweight='bold', ha='left', va='center')
fig.text(fx(30), fy(692), 'Vent/flux et température au niveau 850hPa', fontsize=7.3,
         ha='left', va='center')
fig.text(fx(450), fy(671), 'Ensemble GEFS du 25/08/2026 - 12Z', fontsize=7.3, ha='left', va='center')
fig.text(fx(450), fy(692), 'Copyright 2026 Meteociel.fr', fontsize=8.4, fontweight='bold',
         ha='left', va='center')

fig.savefig('out.png', dpi=100, facecolor='white')
